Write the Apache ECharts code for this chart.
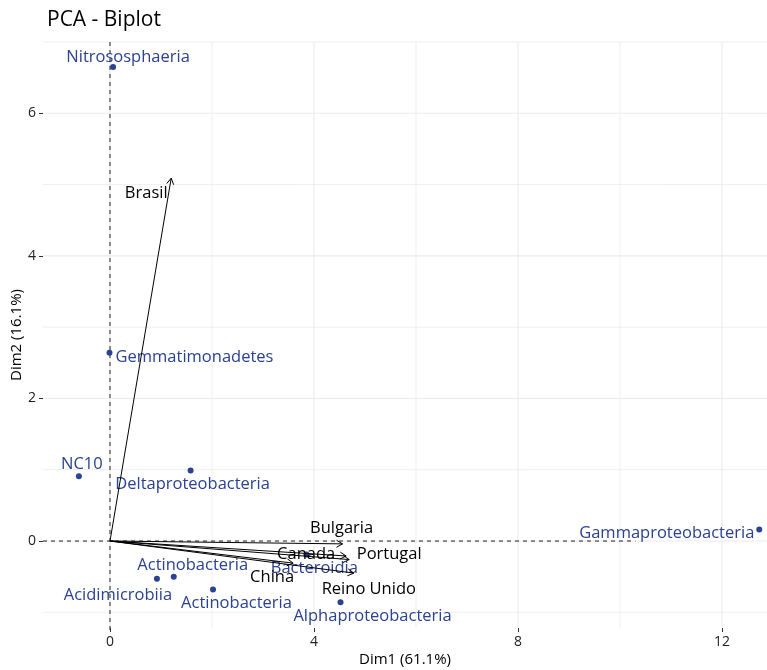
<!DOCTYPE html>
<html>
<head>
<meta charset="utf-8">
<script src="https://cdn.jsdelivr.net/npm/echarts@6/dist/echarts.min.js"></script>
<style>
html,body{margin:0;padding:0;background:#fff;}
#chart{width:767px;height:670px;}
</style>
</head>
<body>
<div id="chart"></div>
<script>
// ---- data ----
const speciesNames = ['Nitrososphaeria','Gemmatimonadetes','NC10','Deltaproteobacteria','Actinobacteria','Acidimicrobiia','Actinobacteria','Bacteroidia','Alphaproteobacteria','Gammaproteobacteria'];
const speciesX = [0.06, -0.01, -0.61, 1.58, 1.25, 0.92, 2.02, 3.85, 4.52, 12.73];
const speciesY = [6.65, 2.64, 0.91, 0.99, -0.50, -0.53, -0.68, -0.19, -0.86, 0.16];

const varNames = ['Brasil','Bulgaria','Canada','Portugal','China','Reino Unido'];
const varX = [1.20, 4.56, 4.63, 4.69, 3.59, 4.78];
const varY = [5.09, -0.04, -0.21, -0.26, -0.31, -0.45];

const xTicks = [0, 4, 8, 12];
const yTicks = [0, 2, 4, 6];
const xMinorGrid = [2, 6, 10];
const yMinorGrid = [-1, 1, 3, 5, 7];

// ---- layout (pixel label offsets, kept apart from data) ----
const speciesLabelOffsets = [[15,-10],[85,4],[3,-12],[2,14],[19,-11],[-39,16],[23.5,14],[8,14],[32,14],[-92.5,4]];
const varLabelOffsets = [[-25,15],[-1,-16],[-40,-2],[40,-5],[-21,14],[15,16]];

const XMIN = -1.3137, XMAX = 12.882, YMIN = -1.22, YMAX = 7.0;
const BLUE = '#2B4191';
const FONT = 'Open Sans';

const chart = echarts.init(document.getElementById('chart'), null, {renderer:'canvas'});

function gridRender(params, api) {
  const cs = params.coordSys;
  const children = [];
  const addV = (v, w) => {
    const p = api.coord([v, 0]);
    children.push({type:'line', shape:{x1:p[0], y1:cs.y, x2:p[0], y2:cs.y+cs.height}, style:{stroke:'#EBEBEB', lineWidth:w}});
  };
  const addH = (v, w) => {
    const p = api.coord([0, v]);
    children.push({type:'line', shape:{x1:cs.x, y1:p[1], x2:cs.x+cs.width, y2:p[1]}, style:{stroke:'#EBEBEB', lineWidth:w}});
  };
  xMinorGrid.forEach(v => addV(v, 0.8));
  yMinorGrid.forEach(v => addH(v, 0.8));
  xTicks.forEach(v => addV(v, 1.1));
  yTicks.forEach(v => addH(v, 1.1));
  // dashed reference lines
  const o = api.coord([0, 0]);
  const hEnd = api.coord([10.3, 0]);
  children.push({type:'line', shape:{x1:o[0], y1:cs.y, x2:o[0], y2:cs.y+cs.height+4}, style:{stroke:'#222', lineWidth:1, lineDash:[4,4]}});
  children.push({type:'line', shape:{x1:cs.x, y1:o[1], x2:hEnd[0], y2:o[1]}, style:{stroke:'#222', lineWidth:1, lineDash:[4,4]}});
  return {type:'group', children};
}

function speciesLabelRender(params, api) {
  const i = params.dataIndex;
  const p = api.coord([api.value(0), api.value(1)]);
  const off = speciesLabelOffsets[i];
  return {type:'text', x:p[0]+off[0], y:p[1]+off[1],
    style:{text:speciesNames[i], fill:BLUE, font:'16.5px "'+FONT+'"', textAlign:'center', textVerticalAlign:'middle'}};
}

function arrowRender(params, api) {
  const s = api.coord([0, 0]);
  const e = api.coord([api.value(0), api.value(1)]);
  const ang = Math.atan2(e[1]-s[1], e[0]-s[0]);
  const L = 7, A = Math.PI/6;
  const h1 = [e[0]-L*Math.cos(ang-A), e[1]-L*Math.sin(ang-A)];
  const h2 = [e[0]-L*Math.cos(ang+A), e[1]-L*Math.sin(ang+A)];
  return {type:'group', children:[
    {type:'line', shape:{x1:s[0], y1:s[1], x2:e[0], y2:e[1]}, style:{stroke:'#000', lineWidth:1}},
    {type:'polyline', shape:{points:[h1, e, h2]}, style:{stroke:'#000', lineWidth:1, fill:null}}
  ]};
}

function varLabelRender(params, api) {
  const i = params.dataIndex;
  const p = api.coord([api.value(0), api.value(1)]);
  const off = varLabelOffsets[i];
  return {type:'text', x:p[0]+off[0], y:p[1]+off[1],
    style:{text:varNames[i], fill:'#000', font:'16.5px "'+FONT+'"', textAlign:'center', textVerticalAlign:'middle'}};
}

const speciesData = speciesX.map((x, i) => [x, speciesY[i]]);
const varData = varX.map((x, i) => [x, varY[i]]);

chart.setOption({
  animation:false,
  backgroundColor:'#fff',
  title:{text:'PCA - Biplot', left:42, top:5, textStyle:{fontFamily:FONT, fontSize:21, fontWeight:'normal', color:'#000'}},
  grid:{left:43, right:0, top:42, bottom:42, containLabel:false, outerBoundsMode:'none'},
  xAxis:{type:'value', min:XMIN, max:XMAX,
    name:'Dim1 (61.1%)', nameLocation:'middle', nameGap:24, nameMoveOverlap:false,
    nameTextStyle:{fontFamily:FONT, fontSize:15, color:'#000', verticalAlign:'top'},
    axisLine:{show:false, onZero:false}, splitLine:{show:false},
    axisTick:{show:true, customValues:xTicks, length:4, lineStyle:{color:'#333'}},
    axisLabel:{customValues:xTicks, margin:7, fontFamily:FONT, fontSize:14, color:'#222'}},
  yAxis:{type:'value', min:YMIN, max:YMAX,
    name:'Dim2 (16.1%)', nameLocation:'middle', nameGap:19, nameMoveOverlap:false,
    nameTextStyle:{fontFamily:FONT, fontSize:15, color:'#000'},
    axisLine:{show:false, onZero:false}, splitLine:{show:false},
    axisTick:{show:true, customValues:yTicks, length:4, lineStyle:{color:'#333'}},
    axisLabel:{customValues:yTicks, margin:7, fontFamily:FONT, fontSize:14, color:'#222'}},
  series:[
    {type:'custom', renderItem:gridRender, data:[[0,0]], z:1, silent:true},
    {type:'scatter', data:speciesData, symbolSize:6, itemStyle:{color:BLUE, opacity:1}, z:2, silent:true},
    {type:'custom', renderItem:speciesLabelRender, data:speciesData, z:3, silent:true},
    {type:'custom', renderItem:arrowRender, data:varData, z:4, silent:true},
    {type:'custom', renderItem:varLabelRender, data:varData, z:5, silent:true}
  ]
});
</script>
</body>
</html>
